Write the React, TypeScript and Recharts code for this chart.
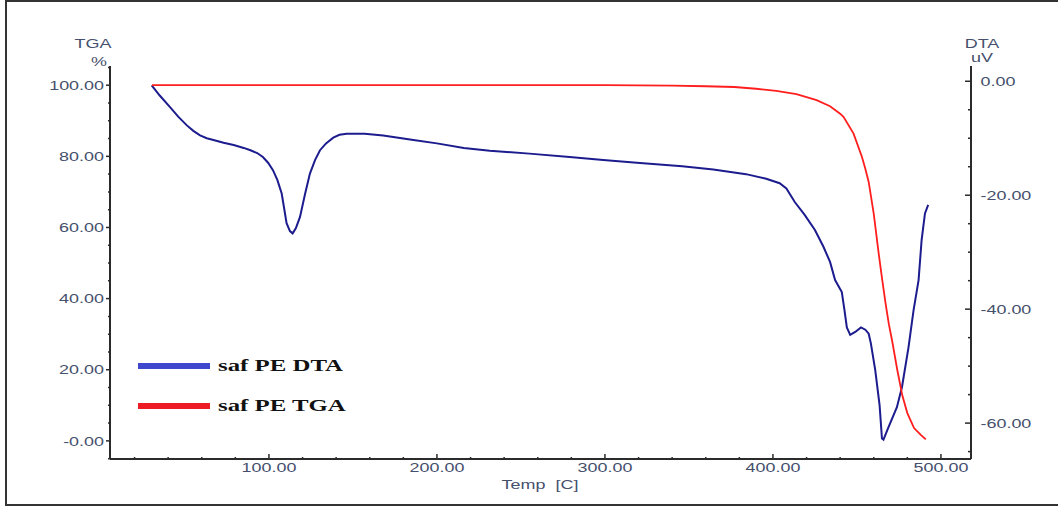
import { LineChart, Line, XAxis, YAxis, Legend } from "recharts";

// TGA (weight %)
const TGA_TEMP = [
  30.4, 100, 200, 300, 340, 360, 377, 390, 402, 414, 426, 434, 440, 442, 448,
  453, 455, 457, 460, 463, 465, 467, 469, 471, 474, 477, 480, 484, 488, 491,
];
const TGA_PCT = [
  100, 100, 100, 100, 99.9, 99.7, 99.5, 99.0, 98.4, 97.5, 95.8, 94.1, 92.0,
  91.1, 86.4, 79.8, 76.5, 72.8, 63.9, 52.5, 45.5, 38.8, 32.8, 28.0, 20.0, 12.8,
  7.8, 3.6, 1.7, 0.4,
];

// DTA (uV)
const DTA_TEMP = [
  30.2, 35, 41, 46, 51, 55, 59, 63, 67, 73, 79, 85, 89, 93, 96.4, 99.5, 102.4,
  105, 107.6, 109, 110.5, 112.5, 114.1, 116, 118.5, 121.5, 124.4, 127.5, 130.4,
  134, 138.3, 142, 146.3, 157, 168, 186, 200, 216, 231.5, 255, 279, 299, 319,
  346, 364.5, 384, 396, 404, 408, 413, 419, 425, 430, 434, 437, 441, 442.5, 444,
  446, 449, 452.4, 455, 457, 458.3, 460.9, 463.5, 464.9, 465.8, 468.8, 473.8,
  476.8, 480.7, 483.7, 486.7, 488.5, 490.5, 492.4,
];
const DTA_UV = [
  -0.7, -2.5, -4.5, -6.2, -7.7, -8.7, -9.5, -10.0, -10.3, -10.8, -11.2, -11.7,
  -12.1, -12.6, -13.3, -14.3, -15.6, -17.3, -19.7, -22.2, -24.9, -26.3, -26.7,
  -25.8, -23.8, -19.8, -16.2, -13.8, -12.1, -10.9, -9.9, -9.4, -9.2, -9.2, -9.5,
  -10.3, -10.9, -11.7, -12.2, -12.7, -13.3, -13.8, -14.3, -14.9, -15.5, -16.3,
  -17.1, -17.9, -18.8, -21.2, -23.5, -26.1, -29.0, -31.7, -34.9, -37.0, -40.0,
  -43.2, -44.5, -44.0, -43.2, -43.6, -44.3, -46.0, -50.7, -56.9, -62.7, -62.9,
  -60.7, -57.2, -53.7, -46.7, -40.2, -34.9, -27.9, -23.2, -21.7,
];

const X_TICKS = [
  20, 40, 60, 80, 100, 120, 140, 160, 180, 200, 220, 240, 260, 280, 300, 320,
  340, 360, 380, 400, 420, 440, 460, 480, 500,
];
const TGA_TICKS = [
  -5, 0, 5, 10, 15, 20, 25, 30, 35, 40, 45, 50, 55, 60, 65, 70, 75, 80, 85, 90,
  95, 100, 105,
];
const DTA_TICKS = [
  -65, -60, -55, -50, -45, -40, -35, -30, -25, -20, -15, -10, -5, 0,
];

const tgaData = TGA_TEMP.map((t, i) => ({ t, tga: TGA_PCT[i] }));
const dtaData = DTA_TEMP.map((t, i) => ({ t, dta: DTA_UV[i] }));

const AXIS = "#2b2b2b";
const LABEL = "#46506c";
const SX = 1.38; // text in the original is stretched sideways
const FONT = "'Liberation Sans', Arial, sans-serif";
const LEGEND_COLORS: Record<string, string> = {
  dta: "#3f48cc",
  tga: "#ed1c24",
};

function TgaTick({ x, y, payload }: any) {
  const v = payload.value;
  const major = v % 20 === 0;
  return (
    <g>
      <line x1={x - (major ? 4 : 2)} x2={x} y1={y} y2={y} stroke={AXIS} strokeWidth={1.5} />
      {major && (
        <text
          transform={`translate(${x - 6},${y}) scale(${SX},1)`}
          textAnchor="end"
          dy="0.36em"
          fontSize={13}
          fontFamily={FONT}
          fill={LABEL}
        >
          {v === 0 ? "-0.00" : v.toFixed(2)}
        </text>
      )}
    </g>
  );
}

function DtaTick({ x, y, payload }: any) {
  const v = payload.value;
  const major = v % 20 === 0;
  return (
    <g>
      <line x1={x - (major ? 6 : 3)} x2={x} y1={y} y2={y} stroke={AXIS} strokeWidth={1.5} />
      {major && (
        <text
          transform={`translate(${x + 9.5},${y}) scale(${SX},1)`}
          textAnchor="start"
          dy="0.36em"
          fontSize={13}
          fontFamily={FONT}
          fill={LABEL}
        >
          {v === 0 ? "0.00" : v.toFixed(2)}
        </text>
      )}
    </g>
  );
}

function TempTick({ x, y, payload }: any) {
  const v = payload.value;
  const major = v % 100 === 0;
  return (
    <g>
      <line x1={x} x2={x} y1={y - (major ? 5 : 2)} y2={y} stroke={AXIS} strokeWidth={1.5} />
      {major && (
        <text
          transform={`translate(${x},${y + 13}) scale(${SX},1)`}
          textAnchor="middle"
          fontSize={13}
          fontFamily={FONT}
          fill={LABEL}
        >
          {v.toFixed(2)}
        </text>
      )}
    </g>
  );
}

function LegendBox({ payload }: any) {
  return (
    <div>
      {(payload || []).map((item: any) => (
        <div
          key={item.dataKey}
          style={{ display: "flex", alignItems: "center", height: 40 }}
        >
          <div
            style={{
              width: 72,
              height: 6,
              background: LEGEND_COLORS[item.dataKey] || item.color,
              marginRight: 8,
            }}
          />
          <span
            style={{
              display: "inline-block",
              fontFamily: "'Liberation Serif', 'Times New Roman', serif",
              fontWeight: "bold",
              fontSize: 17,
              color: "#111",
              whiteSpace: "pre",
              transform: "scaleX(1.46)",
              transformOrigin: "left center",
            }}
          >
            {item.value}
          </span>
        </div>
      ))}
    </div>
  );
}

const title = (text: string, cx: number, baseline: number) => (
  <div
    style={{
      position: "absolute",
      left: cx - 60,
      top: baseline - 11,
      width: 120,
      textAlign: "center",
      fontFamily: FONT,
      fontSize: 13,
      lineHeight: "13px",
      color: LABEL,
      whiteSpace: "pre",
      transform: `scaleX(${SX})`,
    }}
  >
    {text}
  </div>
);

export default function App() {
  return (
    <div style={{ position: "relative", width: 1058, height: 508, background: "#fff" }}>
      <style>{`body{margin:0}`}</style>
      <div
        style={{
          position: "absolute",
          left: 5,
          top: 0,
          width: 1053,
          height: 506,
          borderLeft: "2px solid #333",
          borderTop: "2px solid #333",
          borderBottom: "2px solid #333",
          boxSizing: "border-box",
        }}
      />
      <LineChart
        width={1058}
        height={508}
        margin={{ top: 66, right: 17, bottom: 19, left: 10 }}
        style={{ position: "absolute", left: 0, top: 0 }}
      >
        <XAxis
          dataKey="t"
          type="number"
          domain={[5.4, 517.9]}
          ticks={X_TICKS}
          interval={0}
          allowDataOverflow
          height={30}
          tickSize={0}
          tickMargin={0}
          tick={(p: any) => <TempTick {...p} />}
          tickLine={false}
          axisLine={{ stroke: AXIS, strokeWidth: 2 }}
        />
        <XAxis
          xAxisId="top"
          dataKey="t"
          type="number"
          orientation="top"
          domain={[5.4, 517.9]}
          allowDataOverflow
          height={0}
          tick={false}
          tickLine={false}
          axisLine={{ stroke: AXIS, strokeWidth: 2 }}
        />
        <YAxis
          yAxisId="tga"
          orientation="left"
          type="number"
          domain={[-5.1, 105.4]}
          ticks={TGA_TICKS}
          interval={0}
          allowDataOverflow
          width={100}
          tickSize={0}
          tickMargin={0}
          tick={(p: any) => <TgaTick {...p} />}
          tickLine={false}
          axisLine={{ stroke: AXIS, strokeWidth: 2 }}
        />
        <YAxis
          yAxisId="dta"
          orientation="right"
          type="number"
          domain={[-66.3, 2.68]}
          ticks={DTA_TICKS}
          interval={0}
          allowDataOverflow
          width={70}
          tickSize={0}
          tickMargin={0}
          tick={(p: any) => <DtaTick {...p} />}
          tickLine={false}
          axisLine={{ stroke: AXIS, strokeWidth: 2 }}
        />
        <Legend
          layout="vertical"
          align="center"
          verticalAlign="middle"
          wrapperStyle={{ left: 138, top: 346, width: 300 }}
          content={(p: any) => <LegendBox {...p} />}
        />
        <Line
          yAxisId="dta"
          data={dtaData}
          dataKey="dta"
          name="saf PE DTA"
          type="linear"
          stroke="#1c1c8e"
          strokeWidth={2}
          dot={false}
          isAnimationActive={false}
        />
        <Line
          yAxisId="tga"
          data={tgaData}
          dataKey="tga"
          name="saf PE TGA"
          type="linear"
          stroke="#ff1e1e"
          strokeWidth={1.8}
          dot={false}
          isAnimationActive={false}
        />
      </LineChart>
      {title("TGA", 93, 48)}
      {title("%", 99, 66)}
      {title("DTA", 982, 48)}
      {title("uV", 982, 62)}
      {title("Temp  [C]", 540, 489)}
    </div>
  );
}
